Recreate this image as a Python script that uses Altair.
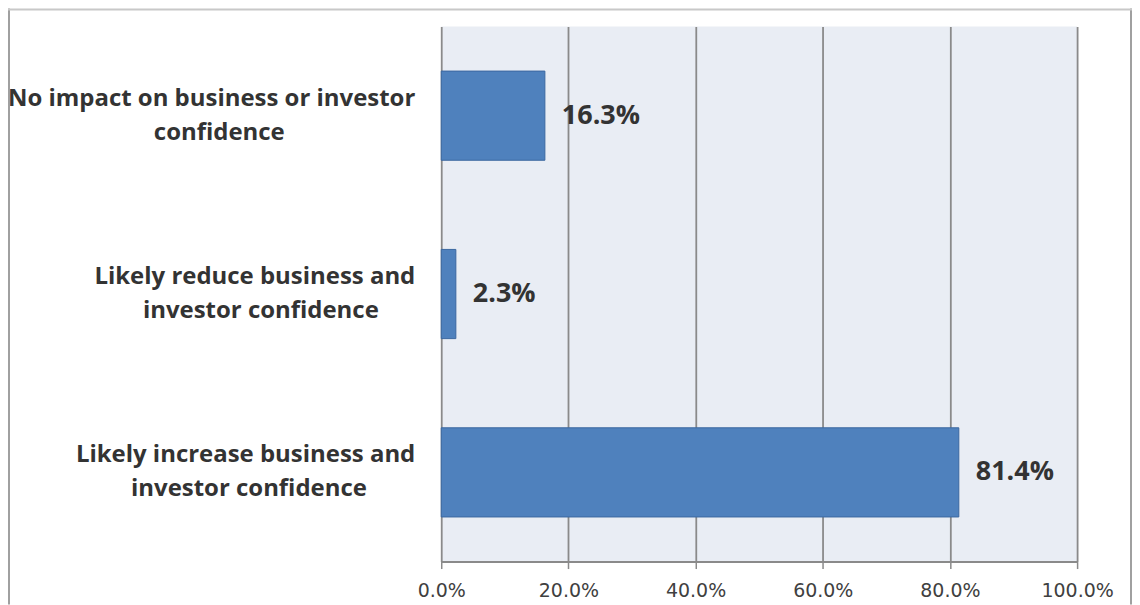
import altair as alt
import pandas as pd

categories = [
    "No impact on business or investor confidence",
    "Likely reduce business and investor confidence",
    "Likely increase business and investor confidence",
]
line1 = ["No impact on business or investor", "Likely reduce business and", "Likely increase business and"]
line2 = ["confidence", "investor confidence", "investor confidence"]
values = [16.3, 2.3, 81.4]
x_ticks = [0, 20, 40, 60, 80, 100]

df = pd.DataFrame({"category": categories, "line1": line1, "line2": line2, "value": values})

GRID = "#8a8a8a"
TXT = "#333333"
FONT = "Open Sans"
W, H = 637, 536

yscale = alt.Scale(paddingInner=0, paddingOuter=0)
xscale = alt.Scale(domain=[0, 100], nice=False, zero=True)

y_axis = alt.Axis(labels=False, title=None, ticks=True, tickBand="extent", tickSize=7,
                  tickColor=GRID, tickWidth=1.5, domainColor=GRID, domainWidth=2, grid=False)
x_axis = alt.Axis(values=x_ticks, labelExpr="format(datum.value, '.1f') + '%'", title=None,
                  grid=True, gridColor=GRID, gridWidth=1.8, tickSize=7, tickColor=GRID, tickWidth=1.5,
                  domainColor=GRID, domainWidth=2, labelFont="DejaVu Sans", labelFontSize=19,
                  labelColor="#404040", labelPadding=13, labelFlush=False)

base = alt.Chart(df)

bars = base.mark_bar(height={"band": 0.5}, fill="#4f81bd", stroke="#3b67a0", strokeWidth=1).encode(
    x=alt.X("value:Q", scale=xscale, axis=x_axis),
    y=alt.Y("category:N", sort=categories, scale=yscale, axis=y_axis),
)

vlabels = base.transform_calculate(lab="format(datum.value, '.1f') + '%'").mark_text(
    align="left", baseline="middle", dx=17, font=FONT, fontSize=27, fontWeight="bold", color=TXT
).encode(
    x=alt.X("value:Q", scale=xscale),
    y=alt.Y("category:N", sort=categories, scale=yscale),
    text="lab:N",
)

l1 = base.mark_text(align="right", baseline="middle", dy=-17, font=FONT, fontSize=24,
                    fontWeight="bold", color=TXT).encode(
    x=alt.value(-26),
    y=alt.Y("category:N", sort=categories, scale=yscale),
    text="line1:N",
)

core = alt.layer(bars, vlabels, l1)

l2 = base.transform_calculate(cx="-26 - length(datum.line1) * 5.95").mark_text(
    align="center", baseline="middle", dy=17, font=FONT, fontSize=24, fontWeight="bold", color=TXT
).encode(
    x=alt.X("cx:Q", scale=None, axis=None),
    y=alt.Y("category:N", sort=categories, scale=yscale, axis=None),
    text="line2:N",
)

frame_src = alt.Chart(pd.DataFrame({"k": [0]}))
left_line = frame_src.mark_rule(color="#a0a0a0", strokeWidth=2).encode(
    x=alt.value(-433), y=alt.value(-18), y2=alt.value(H + 43))
right_line = frame_src.mark_rule(color="#a0a0a0", strokeWidth=2).encode(
    x=alt.value(W + 54), y=alt.value(-18), y2=alt.value(H + 43))
top_line = frame_src.mark_rule(color="#c8c8c8", strokeWidth=2).encode(
    x=alt.value(-434), x2=alt.value(W + 55), y=alt.value(-17))

chart = alt.layer(core, l2, left_line, right_line, top_line).resolve_scale(x="independent").properties(
    width=W, height=H,
    padding={"left": 434, "top": 18, "right": 55, "bottom": 43},
    autosize="none",
    background="white",
).configure_view(fill="#e9edf4", strokeWidth=0)

chart.save("out.html", embed_options={"renderer": "svg", "actions": False})
